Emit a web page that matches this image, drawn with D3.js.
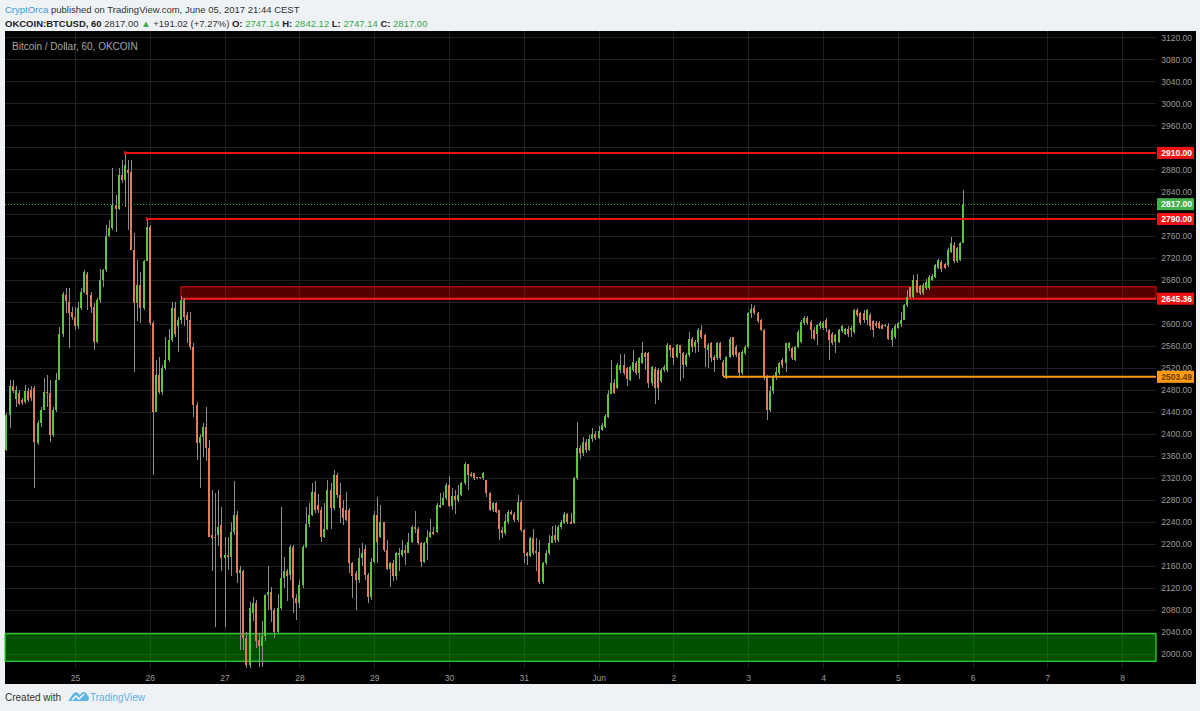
<!DOCTYPE html>
<html><head><meta charset="utf-8">
<script src="https://cdn.jsdelivr.net/npm/d3@7"></script>
<style>
html,body{margin:0;padding:0;background:#eff2f5;}
svg{display:block;font-family:"Liberation Sans",Arial,sans-serif;}
</style></head><body>
<svg id="chart" width="1200" height="711"></svg>
<script>
// ---------- DATA ----------
const firstBarTime = Date.UTC(2017, 4, 24, 2); // hourly bars
const opens = [
2371,2434,2486,2463,2474,2461,2458,2477,2480,2483,
2383,2419,2443,2476,2474,2398,2443,2498,2582,2652,
2640,2622,2613,2595,2628,2658,2690,2652,2631,2567,
2643,2679,2697,2759,2773,2815,2809,2870,2861,2879,
2876,2734,2637,2670,2628,2713,2776,2601,2440,2507,
2476,2519,2534,2570,2628,2595,2607,2643,2616,2607,
2558,2452,2383,2395,2413,2374,2216,2213,2216,2234,
2174,2180,2177,2222,2253,2147,2150,2029,1980,2074,
2092,2026,2014,2032,2107,2113,2080,2041,2083,2138,
2150,2144,2195,2101,2092,2125,2195,2237,2253,2295,
2271,2262,2213,2228,2298,2265,2325,2289,2265,2262,
2262,2165,2147,2135,2174,2190,2144,2104,2168,2253,
2213,2240,2189,2154,2165,2141,2180,2180,2189,2184,
2204,2231,2227,2201,2168,2201,2213,2221,2221,2268,
2271,2283,2307,2269,2287,2279,2289,2310,2345,2327,
2328,2321,2321,2319,2316,2293,2262,2275,2262,2225,
2219,2240,2258,2255,2243,2277,2225,2184,2178,2210,
2183,2186,2131,2165,2183,2202,2216,2207,2231,2238,
2254,2240,2238,2319,2374,2365,2385,2370,2390,2400,
2392,2407,2413,2431,2473,2493,2483,2516,2525,2519,
2498,2516,2529,2511,2529,2546,2546,2492,2518,2516,
2495,2516,2516,2561,2555,2540,2561,2547,2525,2543,
2573,2558,2567,2588,2579,2552,2564,2540,2537,2564,
2531,2502,2540,2575,2558,2547,2510,2546,2558,2619,
2628,2620,2607,2588,2504,2443,2477,2503,2511,2534,
2528,2556,2555,2534,2558,2567,2601,2611,2603,2588,
2582,2595,2592,2607,2588,2582,2566,2566,2586,2582,
2590,2589,2585,2625,2620,2619,2607,2616,2604,2602,
2602,2597,2595,2595,2570,2576,2592,2599,2607,2634,
2667,2649,2679,2669,2655,2664,2664,2679,2685,2701,
2712,2709,2706,2731,2743,2713,2716,2747.14];
const highs = [
2437,2498,2498,2486,2480,2465,2489,2483,2486,2486,
2425,2449,2501,2507,2498,2449,2510,2594,2658,2664,
2664,2631,2631,2640,2664,2697,2694,2658,2637,2646,
2700,2700,2780,2788,2882,2834,2882,2897,2910,2897,
2897,2764,2716,2694,2716,2790,2779,2604,2534,2540,
2525,2576,2591,2640,2640,2613,2650,2646,2622,2622,
2564,2458,2400,2420,2449,2389,2298,2292,2298,2268,
2213,2213,2240,2314,2259,2160,2153,2040,2095,2104,
2098,2038,2060,2110,2160,2122,2083,2110,2268,2177,
2155,2198,2198,2110,2135,2198,2268,2274,2310,2314,
2290,2268,2274,2316,2310,2334,2328,2310,2280,2295,
2265,2168,2150,2192,2201,2198,2147,2174,2259,2285,
2271,2240,2207,2168,2171,2186,2192,2207,2198,2219,
2234,2259,2231,2204,2204,2225,2246,2231,2274,2292,
2295,2310,2323,2301,2298,2307,2313,2348,2345,2331,
2328,2322,2322,2330,2317,2295,2277,2277,2262,2231,
2255,2262,2262,2258,2289,2280,2228,2186,2213,2228,
2210,2207,2168,2189,2216,2233,2234,2234,2243,2258,
2256,2256,2322,2422,2380,2395,2390,2398,2410,2405,
2415,2420,2436,2479,2534,2500,2528,2545,2545,2522,
2523,2552,2533,2540,2567,2549,2549,2523,2521,2519,
2519,2525,2564,2561,2557,2563,2562,2549,2547,2584,
2576,2570,2592,2598,2582,2564,2567,2543,2567,2567,
2534,2541,2576,2576,2561,2549,2552,2561,2622,2636,
2634,2622,2608,2590,2507,2486,2507,2522,2530,2537,
2564,2567,2558,2559,2588,2606,2614,2614,2606,2594,
2600,2604,2604,2610,2591,2585,2582,2591,2597,2593,
2595,2595,2627,2628,2622,2625,2626,2619,2607,2605,
2604,2599,2600,2601,2592,2600,2603,2622,2635,2661,
2667,2688,2691,2670,2673,2682,2688,2690,2708,2717,
2715,2710,2737,2758,2749,2739,2749,2842.12];
const lows = [
2368,2410,2474,2449,2452,2452,2455,2458,2460,2301,
2380,2413,2443,2449,2386,2395,2440,2498,2576,2619,
2555,2607,2589,2591,2625,2655,2625,2619,2552,2564,
2637,2667,2694,2758,2770,2767,2806,2855,2812,2770,
2734,2513,2604,2601,2625,2713,2598,2325,2440,2473,
2470,2516,2531,2567,2576,2549,2600,2595,2564,2552,
2431,2352,2301,2358,2350,2213,2150,2050,2196,2150,
2050,2153,2141,2216,2129,2008,2008,1975,1975,2060,
2011,1977,1977,2023,2080,2059,2029,2038,2080,2120,
2096,2135,2074,2062,2083,2120,2192,2231,2250,2256,
2256,2204,2210,2225,2228,2262,2283,2238,2235,2241,
2147,2101,2080,2129,2160,2135,2092,2098,2165,2165,
2210,2186,2153,2122,2132,2135,2150,2177,2162,2183,
2201,2219,2198,2159,2165,2171,2210,2216,2219,2265,
2271,2280,2268,2262,2255,2277,2287,2307,2298,2322,
2316,2318,2318,2316,2286,2259,2258,2256,2207,2210,
2216,2237,2252,2240,2240,2222,2165,2162,2177,2180,
2150,2128,2128,2162,2180,2201,2201,2204,2228,2237,
2237,2237,2237,2316,2355,2360,2365,2368,2385,2388,
2390,2405,2410,2428,2472,2472,2481,2510,2507,2486,
2496,2513,2507,2499,2527,2516,2483,2486,2455,2461,
2493,2513,2513,2540,2525,2537,2495,2501,2522,2540,
2549,2546,2549,2573,2522,2519,2531,2513,2534,2534,
2503.49,2500,2537,2540,2540,2501,2507,2543,2555,2610,
2616,2601,2587,2498,2425,2440,2473,2498,2507,2520,
2513,2550,2534,2532,2555,2564,2598,2598,2573,2570,
2561,2591,2589,2585,2534,2561,2546,2565,2583,2579,
2576,2576,2582,2613,2598,2601,2597,2589,2576,2592,
2590,2590,2594,2570,2558,2573,2590,2594,2606,2631,
2646,2646,2655,2652,2652,2661,2661,2677,2683,2699,
2694,2699,2703,2728,2710,2711,2713,2747.14];
const closes = [
2434,2486,2478,2480,2455,2456,2477,2461,2465,2386,
2419,2443,2476,2474,2398,2443,2498,2582,2654,2642,
2619,2613,2595,2628,2658,2693,2652,2631,2567,2643,
2679,2697,2759,2773,2815,2809,2870,2861,2888,2873,
2734,2637,2670,2628,2713,2776,2601,2440,2507,2476,
2519,2534,2570,2628,2582,2607,2643,2613,2607,2558,
2452,2383,2395,2413,2374,2213,2210,2211,2231,2174,
2180,2177,2222,2253,2147,2153,2029,1980,2083,2092,
2023,2014,2032,2107,2113,2080,2041,2083,2138,2150,
2141,2195,2101,2092,2125,2195,2237,2253,2295,2262,
2262,2213,2228,2298,2265,2325,2289,2265,2247,2244,
2165,2141,2135,2174,2183,2144,2104,2168,2253,2204,
2240,2189,2154,2165,2141,2184,2184,2189,2184,2204,
2231,2227,2201,2168,2201,2213,2222,2218,2271,2271,
2283,2307,2269,2287,2279,2289,2310,2345,2325,2323,
2319,2319,2319,2328,2292,2262,2275,2258,2228,2219,
2242,2258,2255,2243,2277,2225,2184,2178,2210,2183,
2188,2131,2165,2183,2202,2214,2207,2231,2240,2254,
2240,2237,2319,2374,2365,2385,2370,2390,2400,2392,
2405,2416,2432,2473,2493,2474,2525,2525,2510,2499,
2521,2531,2510,2537,2546,2540,2492,2521,2483,2483,
2516,2521,2561,2553,2537,2561,2546,2525,2543,2573,
2558,2567,2588,2576,2555,2561,2537,2534,2564,2537,
2505,2540,2573,2543,2543,2510,2549,2557,2619,2626,
2619,2604,2588,2504,2443,2477,2503,2513,2528,2525,
2564,2564,2537,2558,2585,2603,2611,2601,2588,2573,
2597,2601,2601,2592,2570,2565,2579,2589,2596,2591,
2581,2592,2624,2616,2601,2607,2625,2595,2589,2595,
2592,2591,2598,2573,2589,2595,2601,2607,2634,2649,
2649,2679,2658,2655,2670,2676,2685,2687,2706,2715,
2700,2701,2734,2746,2713,2737,2746,2817];

const priceTicks = [2000,2040,2080,2120,2160,2200,2240,2280,2320,2360,2400,2440,2480,2520,2560,2600,2640,2680,2720,2760,2800,2840,2880,2920,2960,3000,3040,3080,3120];
const dayTickDates = ["2017-05-25","2017-05-26","2017-05-27","2017-05-28","2017-05-29","2017-05-30","2017-05-31","2017-06-01","2017-06-02","2017-06-03","2017-06-04","2017-06-05","2017-06-06","2017-06-07","2017-06-08"];
const dayTickLabels = ["25","26","27","28","29","30","31","Jun","2","3","4","5","6","7","8"];

// drawn levels: price + bar index where the drawing starts
const resistancePrices = [2910, 2790];
const resistanceStartBars = [38, 45];
const redZone = [2645.36, 2667];      // [low, high]
const redZoneStartBar = 56;
const supportPrice = 2503.49;
const supportStartBar = 230;
const greenZone = [1987, 2037];
const lastPrice = 2817.00;

// ---------- LAYOUT ----------
const W = 1200, H = 711;
const P = {left: 5, right: 1156, top: 31, bottom: 668};
const panelRight = 1196, panelBottom = 684;

const svg = d3.select("#chart");
svg.append("rect").attr("width", W).attr("height", H).attr("fill", "#eff2f5");
svg.append("rect").attr("x", P.left).attr("y", P.top)
   .attr("width", panelRight - P.left).attr("height", panelBottom - P.top).attr("fill", "#000");

const x = d3.scaleUtc()
  .domain([new Date(Date.UTC(2017,4,24)), new Date(Date.UTC(2017,5,9))])
  .range([0.2, 0.2 + 16 * 74.8]);
const y = d3.scaleLinear().domain([2000, 3120]).range([654.1, 37.3]);

const bars = opens.map((o, i) => ({
  t: new Date(firstBarTime + i * 3600e3), o, h: highs[i], l: lows[i], c: closes[i]
}));
const dayDates = dayTickDates.map(s => new Date(s + "T00:00:00Z"));

// grid
const grid = svg.append("g").attr("shape-rendering", "crispEdges");
grid.selectAll("line.h").data(priceTicks).join("line")
  .attr("x1", P.left).attr("x2", P.right)
  .attr("y1", d => Math.round(y(d)) + 0.5).attr("y2", d => Math.round(y(d)) + 0.5)
  .attr("stroke", "#1f1f1f");
grid.selectAll("line.v").data(dayDates).join("line")
  .attr("x1", d => Math.round(x(d)) + 0.5).attr("x2", d => Math.round(x(d)) + 0.5)
  .attr("y1", P.top).attr("y2", P.bottom)
  .attr("stroke", "#1f1f1f");

// title
svg.append("text").attr("x", 12).attr("y", 50).attr("fill", "#a8a8a8")
  .attr("font-size", 10).text("Bitcoin / Dollar, 60, OKCOIN");

// zones (behind candles)
svg.append("rect")
  .attr("x", P.left).attr("width", P.right - P.left)
  .attr("y", y(greenZone[1])).attr("height", y(greenZone[0]) - y(greenZone[1]))
  .attr("fill", "#00c800").attr("fill-opacity", 0.4)
  .attr("stroke", "#2ee02e").attr("stroke-width", 1.2);

const rzX = x(bars[redZoneStartBar].t);
svg.append("rect")
  .attr("x", rzX).attr("width", P.right - rzX)
  .attr("y", y(redZone[1])).attr("height", y(redZone[0]) - y(redZone[1]))
  .attr("fill", "#ff0000").attr("fill-opacity", 0.33)
  .attr("stroke", "#e01010").attr("stroke-width", 1);
svg.append("line").attr("x1", rzX).attr("x2", P.right)
  .attr("y1", y(redZone[0])).attr("y2", y(redZone[0]))
  .attr("stroke", "#ff1a1a").attr("stroke-width", 2);

// candles
const cg = svg.append("g").attr("shape-rendering", "crispEdges");
cg.selectAll("line").data(bars).join("line")
  .attr("x1", d => Math.round(x(d.t))).attr("x2", d => Math.round(x(d.t)))
  .attr("y1", d => y(d.h)).attr("y2", d => y(d.l))
  .attr("stroke", "#8d8d8d").attr("stroke-width", 1);
cg.selectAll("rect").data(bars).join("rect")
  .attr("x", d => Math.round(x(d.t)) - 1)
  .attr("width", 2)
  .attr("y", d => y(Math.max(d.o, d.c)))
  .attr("height", d => Math.max(1, Math.abs(y(d.o) - y(d.c))))
  .attr("fill", d => d.c >= d.o ? "#5fc43c" : "#e27a5c");

// resistance lines
resistancePrices.forEach((p, i) => {
  const x0 = x(bars[resistanceStartBars[i]].t);
  svg.append("line").attr("x1", x0).attr("x2", P.right)
    .attr("y1", y(p)).attr("y2", y(p))
    .attr("stroke", "#e51515").attr("stroke-width", 2);
  svg.append("line").attr("x1", x0).attr("x2", x0)
    .attr("y1", y(p) - 2).attr("y2", y(p) + 2)
    .attr("stroke", "#e51515").attr("stroke-width", 1.5);
});
// support line
const sX = x(bars[supportStartBar].t);
svg.append("line").attr("x1", sX).attr("x2", P.right)
  .attr("y1", y(supportPrice)).attr("y2", y(supportPrice))
  .attr("stroke", "#ff9a10").attr("stroke-width", 2);
// last price dotted line
svg.append("line").attr("x1", P.left).attr("x2", P.right)
  .attr("y1", Math.round(y(lastPrice)) + 0.5).attr("y2", Math.round(y(lastPrice)) + 0.5)
  .attr("stroke", "#3fb04a").attr("stroke-width", 1).attr("stroke-dasharray", "1,2");

// price labels shown on the axis
const axisLabels = [
  {p: resistancePrices[0], bg: "#f21212", fg: "#ffffff"},
  {p: lastPrice, bg: "#43b04c", fg: "#ffffff"},
  {p: resistancePrices[1], bg: "#f21212", fg: "#ffffff"},
  {p: redZone[0], bg: "#f21212", fg: "#ffffff"},
  {p: supportPrice, bg: "#ff9c12", fg: "#6a3a00"}
];

// price axis (ticks hidden where an axis label covers them, as on the platform)
const visibleTicks = priceTicks.filter(t => !axisLabels.some(l => Math.abs(y(t) - y(l.p)) < 6));
const yAxis = d3.axisRight(y).tickValues(visibleTicks).tickFormat(d3.format(".2f")).tickSize(0);
const ya = svg.append("g").attr("transform", `translate(${P.right},0)`).call(yAxis);
ya.select(".domain").remove();
ya.selectAll("text").attr("x", 36).attr("text-anchor", "end")
  .attr("fill", "#9c9c9c").attr("font-size", 8.5).attr("font-family", "Liberation Sans, Arial, sans-serif");

// time axis
const xAxis = d3.axisBottom(x).tickValues(dayDates).tickFormat((d, i) => dayTickLabels[i]).tickSize(0);
const xa = svg.append("g").attr("transform", `translate(0,${P.bottom})`).call(xAxis);
xa.select(".domain").remove();
xa.selectAll("text").attr("y", 7).attr("fill", "#9c9c9c").attr("font-size", 8.5)
  .attr("font-family", "Liberation Sans, Arial, sans-serif");

axisLabels.forEach(l => {
  const cy = y(l.p);
  svg.append("rect").attr("x", P.right + 1).attr("y", cy - 6).attr("width", 37).attr("height", 12)
    .attr("fill", l.bg);
  svg.append("text").attr("x", P.right + 36).attr("y", cy + 3.1).attr("text-anchor", "end")
    .attr("fill", l.fg).attr("font-size", 8.5).attr("font-weight", "bold").text(d3.format(".2f")(l.p));
});

// header
const h1 = svg.append("text").attr("x", 5).attr("y", 13).attr("font-size", 9.5).attr("fill", "#333");
h1.append("tspan").attr("fill", "#3b9ad6").text("CryptOrca");
h1.append("tspan").text(" published on TradingView.com, June 05, 2017 21:44 CEST");

const h2 = svg.append("text").attr("x", 5).attr("y", 27).attr("font-size", 9.5).attr("fill", "#333");
h2.append("tspan").attr("font-weight", "bold").attr("fill", "#222").text("OKCOIN:BTCUSD, 60");
h2.append("tspan").text(" 2817.00 ");
h2.append("tspan").attr("fill", "#3aa64a").text("▲");
h2.append("tspan").text(" +191.02 (+7.27%) ");
[["O:", "2747.14"], ["H:", "2842.12"], ["L:", "2747.14"], ["C:", "2817.00"]].forEach(([k, v], i) => {
  h2.append("tspan").attr("font-weight", "bold").attr("fill", "#222").text((i ? " " : "") + k);
  h2.append("tspan").attr("fill", "#3aa64a").text(" " + v);
});

// footer
svg.append("text").attr("x", 5).attr("y", 701).attr("font-size", 10).attr("fill", "#333").text("Created with");
const logo = svg.append("g").attr("transform", "translate(68,689)");
logo.append("path").attr("d", "M0,12 L5,5 Q7,2 10,4 L12,6 Q14,1 18,4 L20,7 Q22,9 20,12 Z").attr("fill", "#5fb6e6");
logo.append("path").attr("d", "M4,11 L8,7 L11,10 L16,5").attr("fill", "none").attr("stroke", "#ffffff").attr("stroke-width", 1.3);
svg.append("text").attr("x", 90).attr("y", 701).attr("font-size", 10).attr("fill", "#5fb0e0").text("TradingView");
</script>
</body></html>
